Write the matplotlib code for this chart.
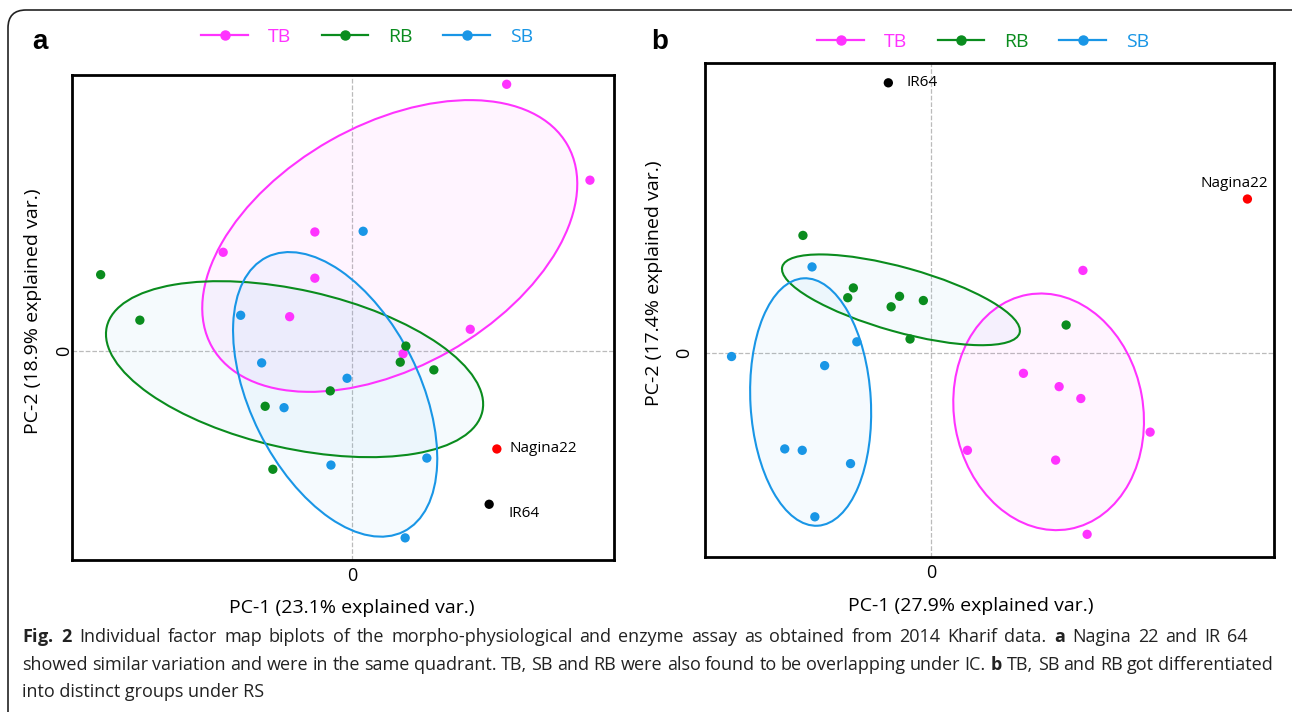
import matplotlib.pyplot as plt
import numpy as np
from matplotlib.patches import Ellipse, FancyBboxPatch
from matplotlib.lines import Line2D

plt.rcParams['font.family'] = ['Open Sans', 'DejaVu Sans']
plt.rcParams['mathtext.fontset'] = 'custom'
plt.rcParams['mathtext.rm'] = 'Open Sans'
plt.rcParams['mathtext.bf'] = 'Open Sans:bold'

groups = ['TB', 'RB', 'SB']
colors = ['#ff33ff', '#0a8c1e', '#1996e6']

# panel a: PCA scores (IC)
a_tb_x = [2.21, 3.40, -1.84, -0.53, -0.53, -0.89, 1.69, 0.73]
a_tb_y = [3.81, 2.44, 1.41, 1.70, 1.04, 0.49, 0.31, -0.04]
a_rb_x = [-3.59, -3.03, 0.77, 0.69, 1.17, -0.31, -1.24, -1.13]
a_rb_y = [1.09, 0.44, 0.07, -0.16, -0.27, -0.57, -0.79, -1.69]
a_sb_x = [0.16, -1.59, -1.29, -0.07, -0.97, -0.30, 1.07, 0.76]
a_sb_y = [1.71, 0.51, -0.17, -0.39, -0.81, -1.63, -1.53, -2.67]
a_checks = ['Nagina22', 'IR64']
a_check_x = [2.07, 1.96]
a_check_y = [-1.40, -2.19]
a_ell_center = [(0.54, 1.50), (-0.82, -0.26), (-0.24, -0.62)]
a_ell_semi = [(2.92, 1.73), (2.75, 1.13), (2.19, 1.21)]
a_ell_angle = [29.6, -12.7, -63.5]

# panel b: PCA scores (RS)
b_tb_x = [2.17, 1.32, 1.83, 2.14, 3.13, 0.52, 1.78, 2.23]
b_tb_y = [1.18, -0.29, -0.48, -0.65, -1.13, -1.39, -1.53, -2.59]
b_rb_x = [-1.83, -1.11, -1.19, -0.45, -0.57, -0.11, -0.30, 1.93]
b_rb_y = [1.68, 0.93, 0.79, 0.81, 0.66, 0.75, 0.20, 0.40]
b_sb_x = [-1.70, -1.06, -2.85, -1.52, -2.09, -1.84, -1.15, -1.66]
b_sb_y = [1.23, 0.16, -0.05, -0.18, -1.37, -1.39, -1.58, -2.34]
b_checks = ['Nagina22', 'IR64']
b_check_x = [4.52, -0.61]
b_check_y = [2.20, 3.86]
b_ell_center = [(1.68, -0.84), (-0.43, 0.76), (-1.72, -0.70)]
b_ell_semi = [(1.70, 1.35), (1.76, 0.46), (1.77, 0.86)]
b_ell_angle = [-79.85, -15.6, -86.7]

caption = [r'$\bf{Fig.}$ $\bf{2}$ Individual factor map biplots of the morpho-physiological and enzyme assay as obtained from 2014 Kharif data. $\bf{a}$ Nagina 22 and IR 64',
           r'showed similar variation and were in the same quadrant. TB, SB and RB were also found to be overlapping under IC. $\bf{b}$ TB, SB and RB got differentiated',
           'into distinct groups under RS']

W, H = 1292, 712
fig = plt.figure(figsize=(W / 100, H / 100), dpi=100)
fig.patch.set_facecolor('white')

# rounded frame around the whole figure
frame = FancyBboxPatch((0.08, -0.6), 13.5, 7.62, boxstyle='round,pad=0,rounding_size=0.18',
                       transform=fig.dpi_scale_trans, facecolor='none',
                       edgecolor='#222222', linewidth=1.2)
fig.patches.append(frame)

ax_a = fig.add_axes([0.0557, 0.2135, 0.4195, 0.6812])
ax_b = fig.add_axes([0.5453, 0.2177, 0.4404, 0.6938])

fills = [(colors[0], 0.05), ('#8ccbee', 0.08), (colors[2], 0.04)]


def draw_panel(ax, xs, ys, cx, cy, centers, semis, angles, xlim, ylim):
    ax.axhline(0, color='#bbbbbb', linestyle='--', linewidth=0.9, zorder=1)
    ax.axvline(0, color='#bbbbbb', linestyle='--', linewidth=0.9, zorder=1)
    for i in range(3):
        fc, al = fills[i]
        e = Ellipse(centers[i], 2 * semis[i][0], 2 * semis[i][1], angle=angles[i],
                    facecolor=fc, alpha=al, edgecolor='none', zorder=2)
        ax.add_patch(e)
        e2 = Ellipse(centers[i], 2 * semis[i][0], 2 * semis[i][1], angle=angles[i],
                     facecolor='none', edgecolor=colors[i], linewidth=1.5, zorder=3)
        ax.add_patch(e2)
    for i in range(3):
        ax.scatter(xs[i], ys[i], s=45, color=colors[i], edgecolors='none', zorder=4)
    ax.scatter(cx[0], cy[0], s=45, color='#ff0000', edgecolors='none', zorder=4)
    ax.scatter(cx[1], cy[1], s=45, color='black', edgecolors='none', zorder=4)
    ax.set_xlim(xlim)
    ax.set_ylim(ylim)
    ax.set_xticks([0])
    ax.set_yticks([0])
    ax.tick_params(length=0, labelsize=13)
    for lab in ax.get_yticklabels():
        lab.set_rotation(90)
        lab.set_va('center')
    for s in ax.spines.values():
        s.set_linewidth(2.0)
        s.set_color('black')


draw_panel(ax_a, [a_tb_x, a_rb_x, a_sb_x], [a_tb_y, a_rb_y, a_sb_y],
           a_check_x, a_check_y, a_ell_center, a_ell_semi, a_ell_angle,
           (-4.0, 3.743), (-2.986, 3.943))
draw_panel(ax_b, [b_tb_x, b_rb_x, b_sb_x], [b_tb_y, b_rb_y, b_sb_y],
           b_check_x, b_check_y, b_ell_center, b_ell_semi, b_ell_angle,
           (-3.236, 4.893), (-2.914, 4.143))

ax_a.tick_params(axis='x', pad=5)
ax_a.tick_params(axis='y', pad=-1)
ax_b.tick_params(axis='x', pad=5)
ax_b.tick_params(axis='y', pad=8)

ax_a.annotate(a_checks[0], (a_check_x[0], a_check_y[0]), xytext=(9, 0),
              textcoords='offset points', va='center', ha='left', fontsize=11)
ax_a.annotate(a_checks[1], (a_check_x[1], a_check_y[1]), xytext=(14, -7),
              textcoords='offset points', va='center', ha='left', fontsize=11)
ax_b.annotate(b_checks[0], (b_check_x[0], b_check_y[0]), xytext=(15, 11),
              textcoords='offset points', va='center', ha='right', fontsize=11)
ax_b.annotate(b_checks[1], (b_check_x[1], b_check_y[1]), xytext=(13, 0),
              textcoords='offset points', va='center', ha='left', fontsize=11)

ax_a.set_xlabel('PC-1 (23.1% explained var.)', fontsize=14)
ax_a.set_ylabel('PC-2 (18.9% explained var.)', fontsize=14)
ax_b.set_xlabel('PC-1 (27.9% explained var.)', fontsize=14)
ax_b.set_ylabel('PC-2 (17.4% explained var.)', fontsize=14)
ax_a.xaxis.set_label_coords(0.517, -0.08)
ax_a.yaxis.set_label_coords(-0.055, 0.513)
ax_b.xaxis.set_label_coords(0.468, -0.08)
ax_b.yaxis.set_label_coords(-0.073, 0.555)

handles = [Line2D([0], [0], color=c, marker='o', markersize=6.5, linewidth=1.6) for c in colors]
for ax, anchor in [(ax_a, (367, 37)), (ax_b, (983, 42))]:
    leg = ax.legend(handles, groups, loc='center', bbox_to_anchor=(anchor[0] / W, 1 - anchor[1] / H),
                    bbox_transform=fig.transFigure, ncol=3, frameon=False, fontsize=14,
                    handlelength=2.4, handletextpad=1.0, columnspacing=1.6)
    for t, c in zip(leg.get_texts(), colors):
        t.set_color(c)

fig.text(40 / W, 1 - 42 / H, 'a', fontsize=20, fontweight='bold',
         family='Liberation Sans', ha='center', va='center')
fig.text(660 / W, 1 - 42 / H, 'b', fontsize=20, fontweight='bold',
         family='Liberation Sans', ha='center', va='center')

# caption, justified lines
renderer = fig.canvas.get_renderer()
line_y = [637, 665, 692]
line_end = [1248, 1273, None]
for line, yy, xend in zip(caption, line_y, line_end):
    if xend is None:
        fig.text(22 / W, 1 - yy / H, line, fontsize=13, color='#222222', ha='left', va='center')
        continue
    words = line.split(' ')
    texts = [fig.text(0, 1 - yy / H, w, fontsize=13, color='#222222', ha='left', va='center')
             for w in words]
    widths = [t.get_window_extent(renderer).width for t in texts]
    gap = (xend - 22 - sum(widths)) / (len(words) - 1)
    x = 22
    for t, w in zip(texts, widths):
        t.set_x(x / W)
        x += w + gap

fig.savefig('out.png', dpi=100, facecolor='white')
